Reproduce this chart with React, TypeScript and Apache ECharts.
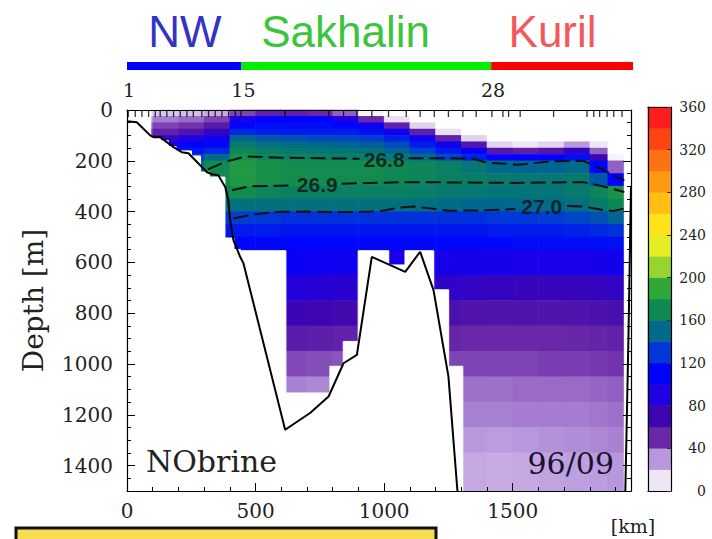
import { useEffect, useRef } from 'react';
import * as echarts from 'echarts';

// ---------- data ----------
const DIST_EDGES = [0, 100, 200, 300, 400, 500, 600, 700, 800, 900, 1000, 1100, 1200, 1300, 1400, 1500, 1600, 1700, 1800, 1870, 1935];
const DEPTH_EDGES = [0, 25, 50, 75, 100, 125, 150, 175, 200, 250, 300, 350, 400, 450, 500, 550, 650, 750, 850, 950, 1050, 1150, 1250, 1350, 1500];

const ROW_00 = [8, 18, 20, 25, 45, 55, 55, 50, 40, 5, 0, 0, 0, 0, 0, 0, 0, 0, 0, 0];
const ROW_01 = [20, 35, 38, 45, 95, 108, 110, 108, 90, 50, 12, 0, 0, 0, 0, 0, 0, 0, 0, 0];
const ROW_02 = [30, 45, 48, 58, 112, 115, 115, 115, 112, 100, 55, 15, 0, 0, 0, 0, 0, 0, 0, 0];
const ROW_03 = [38, 55, 62, 75, 125, 120, 120, 120, 120, 116, 100, 55, 12, 0, 0, 0, 0, 0, 0, 0];
const ROW_04 = [45, 75, 90, 100, 148, 142, 140, 136, 135, 132, 122, 100, 55, 15, 0, 0, 0, 0, 0, 0];
const ROW_05 = [50, 92, 110, 112, 160, 155, 152, 150, 148, 146, 138, 120, 100, 60, 15, 10, 15, 30, 10, 0];
const ROW_06 = [55, 108, 118, 125, 168, 162, 160, 158, 157, 155, 148, 135, 120, 105, 60, 55, 60, 80, 40, 0];
const ROW_07 = [60, 115, 132, 150, 174, 167, 165, 163, 162, 162, 158, 150, 135, 122, 110, 108, 110, 115, 70, 5];
const ROW_08 = [60, 120, 150, 170, 180, 174, 172, 171, 171, 171, 169, 167, 163, 158, 150, 148, 148, 150, 112, 40];
const ROW_09 = [60, 120, 152, 170, 180, 174, 172, 171, 170, 170, 168, 166, 164, 162, 160, 158, 158, 160, 142, 110];
const ROW_10 = [60, 120, 150, 165, 172, 166, 164, 163, 163, 163, 163, 162, 160, 158, 156, 156, 156, 160, 166, 176];
const ROW_11 = [60, 120, 145, 152, 154, 154, 154, 154, 154, 154, 154, 153, 151, 149, 149, 149, 151, 154, 160, 168];
const ROW_12 = [60, 118, 130, 130, 132, 130, 128, 128, 128, 128, 128, 128, 128, 128, 130, 130, 132, 135, 140, 148];
const ROW_13 = [60, 115, 118, 118, 120, 120, 118, 118, 118, 118, 118, 118, 118, 118, 120, 120, 120, 122, 125, 128];
const ROW_14 = [60, 110, 112, 112, 112, 112, 112, 112, 112, 112, 112, 112, 112, 112, 112, 114, 114, 115, 115, 116];
const ROW_15 = [100, 105, 105, 105, 105, 105, 104, 102, 100, 98, 96, 96, 96, 96, 96, 95, 95, 95, 96, 98];
const ROW_16 = [85, 88, 88, 88, 88, 88, 88, 86, 84, 82, 80, 80, 80, 78, 76, 75, 75, 75, 76, 78];
const ROW_17 = [70, 72, 72, 72, 72, 72, 72, 70, 68, 66, 64, 64, 64, 62, 62, 62, 62, 62, 63, 65];
const ROW_18 = [56, 56, 56, 56, 56, 56, 57, 56, 54, 52, 52, 52, 52, 50, 50, 50, 50, 51, 52, 54];
const ROW_19 = [44, 44, 44, 44, 44, 44, 44, 43, 42, 44, 45, 45, 45, 45, 45, 45, 46, 46, 47, 48];
const ROW_20 = [34, 34, 34, 34, 34, 34, 34, 33, 34, 36, 37, 37, 37, 37, 37, 38, 38, 38, 39, 40];
const ROW_21 = [33, 33, 33, 33, 33, 33, 33, 33, 33, 34, 34, 34, 34, 34, 34, 35, 35, 35, 36, 37];
const ROW_22 = [30, 30, 30, 30, 30, 30, 30, 30, 30, 30, 30, 30, 30, 30, 29, 30, 31, 32, 33, 34];
const ROW_23 = [26, 26, 26, 26, 26, 26, 26, 26, 26, 26, 26, 26, 26, 26, 25, 26, 27, 28, 29, 30];
const FIELD_ROWS = [ROW_00, ROW_01, ROW_02, ROW_03, ROW_04, ROW_05, ROW_06, ROW_07, ROW_08, ROW_09, ROW_10, ROW_11,
  ROW_12, ROW_13, ROW_14, ROW_15, ROW_16, ROW_17, ROW_18, ROW_19, ROW_20, ROW_21, ROW_22, ROW_23];

// seabed (no data) blocks
const MASK_FROM_KM = [0, 90, 130, 160, 190, 250, 285, 320, 380, 415, 440, 617, 790, 842, 900, 1017, 1082, 1192, 1250, 1935];
const MASK_TO_KM = [90, 130, 160, 190, 250, 285, 320, 380, 415, 440, 617, 790, 842, 900, 1017, 1082, 1192, 1250, 1305, 1960];
const MASK_TOP_M = [0, 110, 122, 145, 162, 182, 245, 265, 505, 550, 555, 1115, 1010, 912, 555, 611, 555, 709, 1010, 0];

// bathymetry line
const SEABED_KM = [0, 38, 90, 103, 129, 181, 213, 239, 310, 330, 355, 382, 394, 401, 414, 440, 453, 615, 712, 784, 842, 894, 952, 1082, 1140, 1192, 1250, 1285];
const SEABED_M = [44, 48, 100, 107, 107, 146, 166, 170, 244, 253, 257, 303, 355, 434, 513, 578, 604, 1259, 1193, 1128, 997, 964, 578, 637, 558, 709, 1049, 1500];
const SEABED_EAST_KM = [1938, 1950, 1960];
const SEABED_EAST_M = [1500, 900, 300];

// density contours (null = gap for label)
const C268_KM = [315, 380, 460, 600, 760, 905, null, 1095, 1250, 1347, 1400, 1478, 1520, 1647, 1775, 1860, 1934];
const C268_M = [234, 205, 183, 188, 190, 192, null, 190, 190, 192, 208, 212, 216, 202, 200, 240, 277];
const C269_KM = [408, 480, 600, 645, null, 835, 1000, 1100, 1250, 1500, 1775, 1850, 1934];
const C269_M = [316, 300, 298, 297, null, 290, 286, 284, 285, 287, 284, 300, 323];
const C270_KM = [414, 500, 592, 700, 850, 950, 1000, 1060, 1117, 1200, 1250, 1380, 1510, null, 1712, 1775, 1840, 1891, 1934];
const C270_M = [427, 410, 401, 400, 402, 400, 396, 384, 380, 390, 397, 395, 390, null, 378, 380, 392, 398, 388];
const CONTOUR_NAMES = ['26.8', '26.9', '27.0'];
const CONTOUR_LABEL_KM = [1000, 740, 1613];
const CONTOUR_LABEL_M = [195, 293, 381];

// station marks along the top
const STATIONS_KM = [5, 32, 58, 84, 110, 129, 155, 181, 207, 233, 258, 291, 317, 343, 369, 395, 421, 443, 615, 784, 842, 894, 952, 1017, 1086, 1140, 1195, 1250, 1306, 1358, 1419, 1462, 1484, 1529, 1659, 1789, 1815, 1838, 1867, 1893, 1925];

// regions
const REGION_NAMES = ['NW', 'Sakhalin', 'Kuril'];
const REGION_FROM_KM = [0, 445, 1416];
const REGION_TO_KM = [445, 1416, 1968];
const REGION_NAME_KM = [225, 850, 1655];
const REGION_TEXT_COLORS = ['#3434c4', '#3cc43c', '#f55858'];
const REGION_BAR_COLORS = ['#0000ff', '#00ee00', '#ff0000'];
const STATION_MARKS = ['1', '15', '28'];
const STATION_MARK_KM = [0, 445, 1416];

// colour scale
const LEVELS = [0, 20, 40, 60, 80, 100, 120, 140, 160, 180, 200, 220, 240, 260, 280, 300, 320, 340];
const LEVEL_COLORS = ['#eee6f6', '#b898dc', '#6a28a8', '#3e06b0', '#2000e0', '#0000ff', '#0038d8', '#006a8a', '#108a50',
  '#30a838', '#98d430', '#e4ee22', '#ffe41a', '#ffc012', '#ff9a12', '#ff7212', '#ff4414', '#ff1c1c'];

const CASE_LABEL = 'NObrine';
const DATE_LABEL = '96/09';
const X_UNIT = '[km]';
const Y_NAME = 'Depth [m]';

// ---------- helpers ----------
const SERIF = 'DejaVu Serif';
const SANS = 'Liberation Sans';

function hexRgb(h: string) {
  const n = parseInt(h.slice(1), 16);
  return [(n >> 16) & 255, (n >> 8) & 255, n & 255];
}
const RAMP: [number, string][] = [[0, '#ffffff'], ...LEVELS.map((l, i) => [l + 10, LEVEL_COLORS[i]] as [number, string])];
function colorFor(v: number) {
  if (v <= RAMP[0][0]) return RAMP[0][1];
  for (let i = 1; i < RAMP.length; i++) {
    if (v <= RAMP[i][0]) {
      const [a, ca] = RAMP[i - 1];
      const [b, cb] = RAMP[i];
      const t = (v - a) / (b - a);
      const A = hexRgb(ca), B = hexRgb(cb);
      return `rgb(${Math.round(A[0] + (B[0] - A[0]) * t)},${Math.round(A[1] + (B[1] - A[1]) * t)},${Math.round(A[2] + (B[2] - A[2]) * t)})`;
    }
  }
  return RAMP[RAMP.length - 1][1];
}

function toLine(km: (number | null)[], m: (number | null)[]) {
  return km.map((k, i) => (k === null || m[i] === null ? ['-', '-'] : [k, m[i]]));
}

const plain = (v: number) => String(v);

function buildOption() {
  const fieldData: number[][] = [];
  FIELD_ROWS.forEach((row, r) =>
    row.forEach((v, c) => fieldData.push([DIST_EDGES[c], DIST_EDGES[c + 1], DEPTH_EDGES[r], DEPTH_EDGES[r + 1], v]))
  );
  const maskData = MASK_FROM_KM.map((f, i) => [f, MASK_TO_KM[i], MASK_TOP_M[i], 1500]);
  const barData = LEVELS.map((l, i) => [0, 1, l, l + 20, i]);

  const rectRender = (fill: (api: any) => string, pad: number, stroke?: string) => (params: any, api: any) => {
    const a = api.coord([api.value(0), api.value(2)]);
    const b = api.coord([api.value(1), api.value(3)]);
    return {
      type: 'rect',
      shape: {
        x: Math.min(a[0], b[0]) - pad / 2,
        y: Math.min(a[1], b[1]) - pad / 2,
        width: Math.abs(b[0] - a[0]) + pad,
        height: Math.abs(b[1] - a[1]) + pad,
      },
      style: stroke ? { fill: fill(api), stroke, lineWidth: 1 } : { fill: fill(api) },
    };
  };

  const axisLine = { show: true, onZero: false, lineStyle: { color: '#000', width: 1.2 } };
  const labelBase = { fontFamily: SERIF, color: '#222', formatter: plain };

  const contourSeries = [
    toLine(C268_KM, C268_M),
    toLine(C269_KM, C269_M),
    toLine(C270_KM, C270_M),
  ].map((d) => ({
    type: 'line',
    xAxisIndex: 0,
    yAxisIndex: 0,
    data: d,
    symbol: 'none',
    connectNulls: false,
    z: 5,
    lineStyle: { color: '#111', width: 2, type: [15, 6] },
    silent: true,
  }));

  return {
    animation: false,
    backgroundColor: '#ffffff',
    grid: [
      { left: 127, top: 110, width: 504, height: 381, containLabel: false, outerBoundsMode: 'none' },
      { left: 648, top: 107, width: 23, height: 384, containLabel: false, outerBoundsMode: 'none' },
    ],
    xAxis: [
      {
        type: 'value', gridIndex: 0, min: 0, max: 1960, interval: 500, position: 'bottom', z: 10,
        axisLine,
        axisTick: { show: true, inside: true, length: 8, lineStyle: { color: '#000' } },
        minorTick: { show: true, splitNumber: 5, length: 4, lineStyle: { color: '#000' } },
        axisLabel: { ...labelBase, fontSize: 20, margin: 10, showMaxLabel: false },
        splitLine: { show: false }, minorSplitLine: { show: false },
      },
      {
        type: 'value', gridIndex: 0, min: 0, max: 1960, position: 'top', z: 10,
        axisLine, axisTick: { show: false }, axisLabel: { show: false }, splitLine: { show: false },
      },
      {
        type: 'value', gridIndex: 1, min: 0, max: 1, position: 'bottom', z: 10,
        axisLine, axisTick: { show: false }, axisLabel: { show: false }, splitLine: { show: false },
      },
      {
        type: 'value', gridIndex: 1, min: 0, max: 1, position: 'top', z: 10,
        axisLine, axisTick: { show: false }, axisLabel: { show: false }, splitLine: { show: false },
      },
    ],
    yAxis: [
      {
        type: 'value', gridIndex: 0, min: 0, max: 1500, interval: 200, inverse: true, position: 'left', z: 10,
        name: Y_NAME, nameLocation: 'middle', nameGap: 80,
        nameTextStyle: { fontFamily: SERIF, fontSize: 28, color: '#222' },
        axisLine,
        axisTick: { show: true, inside: true, length: 8, lineStyle: { color: '#000' } },
        minorTick: { show: true, splitNumber: 4, length: 4, lineStyle: { color: '#000' } },
        axisLabel: { ...labelBase, fontSize: 20, margin: 14, showMaxLabel: false },
        splitLine: { show: false }, minorSplitLine: { show: false },
      },
      {
        type: 'value', gridIndex: 0, min: 0, max: 1500, interval: 200, inverse: true, position: 'right', z: 10,
        axisLine,
        axisTick: { show: true, inside: true, length: 8, lineStyle: { color: '#000' } },
        minorTick: { show: true, splitNumber: 4, length: 4, lineStyle: { color: '#000' } },
        axisLabel: { show: false },
        splitLine: { show: false }, minorSplitLine: { show: false },
      },
      {
        type: 'value', gridIndex: 1, min: 0, max: 360, interval: 40, position: 'right', z: 10,
        axisLine,
        axisTick: { show: true, inside: true, length: 4, lineStyle: { color: '#333' } },
        axisLabel: { ...labelBase, fontSize: 14, margin: 35, align: 'right' },
        splitLine: { show: false },
      },
      {
        type: 'value', gridIndex: 1, min: 0, max: 360, position: 'left', z: 10,
        axisLine, axisTick: { show: false }, axisLabel: { show: false }, splitLine: { show: false },
      },
    ],
    series: [
      {
        type: 'custom', name: 'field', xAxisIndex: 0, yAxisIndex: 0, z: 1, silent: true,
        encode: { x: [0, 1], y: [2, 3] },
        data: fieldData,
        renderItem: rectRender((api) => colorFor(api.value(4)), 0.6),
      },
      {
        type: 'custom', name: 'seabed', xAxisIndex: 0, yAxisIndex: 0, z: 2, silent: true,
        encode: { x: [0, 1], y: [2, 3] },
        data: maskData,
        renderItem: rectRender(() => '#ffffff', 0.5, '#ffffff'),
      },
      ...contourSeries,
      {
        type: 'scatter', xAxisIndex: 0, yAxisIndex: 0, z: 6, silent: true, clip: false,
        symbolSize: 1, itemStyle: { color: 'rgba(0,0,0,0)' },
        data: CONTOUR_NAMES.map((n, i) => ({ name: n, value: [CONTOUR_LABEL_KM[i], CONTOUR_LABEL_M[i]] })),
        label: {
          show: true, position: 'inside', formatter: '{b}',
          fontFamily: SANS, fontWeight: 'bold', fontSize: 21, color: '#111',
        },
      },
      {
        type: 'line', xAxisIndex: 0, yAxisIndex: 0, z: 7, silent: true, symbol: 'none',
        data: SEABED_KM.map((k, i) => [k, SEABED_M[i]]),
        lineStyle: { color: '#000', width: 2 },
      },
      {
        type: 'line', xAxisIndex: 0, yAxisIndex: 0, z: 7, silent: true, symbol: 'none',
        data: SEABED_EAST_KM.map((k, i) => [k, SEABED_EAST_M[i]]),
        lineStyle: { color: '#000', width: 2 },
      },
      {
        type: 'scatter', xAxisIndex: 0, yAxisIndex: 0, z: 11, silent: true, clip: false,
        symbol: 'rect', symbolSize: [1.3, 7], symbolOffset: [0, 3.5],
        itemStyle: { color: '#000' },
        data: STATIONS_KM.map((k) => [k, 0]),
      },
      {
        type: 'custom', name: 'regionBar', xAxisIndex: 0, yAxisIndex: 0, z: 12, silent: true, clip: false,
        encode: { x: [0, 1] },
        data: REGION_FROM_KM.map((f, i) => [f, REGION_TO_KM[i], i]),
        renderItem: (params: any, api: any) => {
          const a = api.coord([api.value(0), 0]);
          const b = api.coord([api.value(1), 0]);
          return {
            type: 'rect',
            shape: { x: a[0], y: a[1] - 48, width: b[0] - a[0], height: 8 },
            style: { fill: REGION_BAR_COLORS[api.value(2)] },
          };
        },
      },
      {
        type: 'custom', name: 'regionNames', xAxisIndex: 0, yAxisIndex: 0, z: 12, silent: true, clip: false,
        encode: { x: 0 },
        data: REGION_NAME_KM.map((k, i) => [k, i]),
        renderItem: (params: any, api: any) => {
          const p = api.coord([api.value(0), 0]);
          const i = api.value(1);
          return {
            type: 'text', x: p[0], y: p[1] - 79,
            style: { text: REGION_NAMES[i], fontSize: 44, fontFamily: SANS, fill: REGION_TEXT_COLORS[i], align: 'center', verticalAlign: 'middle' },
          };
        },
      },
      {
        type: 'custom', name: 'stationMarks', xAxisIndex: 0, yAxisIndex: 0, z: 12, silent: true, clip: false,
        encode: { x: 0 },
        data: STATION_MARK_KM.map((k, i) => [k, i]),
        renderItem: (params: any, api: any) => {
          const p = api.coord([api.value(0), 0]);
          const i = api.value(1);
          return {
            type: 'text', x: p[0] + 2, y: p[1] - 20,
            style: { text: STATION_MARKS[i], fontSize: 19, fontFamily: SERIF, fill: '#222', align: 'center', verticalAlign: 'middle' },
          };
        },
      },
      {
        type: 'custom', name: 'colorbar', xAxisIndex: 2, yAxisIndex: 2, z: 1, silent: true,
        encode: { x: [0, 1], y: [2, 3] },
        data: barData,
        renderItem: rectRender((api) => LEVEL_COLORS[api.value(4)], 0.5),
      },
    ],
    graphic: [
      {
        type: 'text', x: 146, y: 461, z: 100, silent: true,
        style: { text: CASE_LABEL, fontSize: 30, fontFamily: SERIF, fill: '#222', align: 'left', verticalAlign: 'middle' },
      },
      {
        type: 'text', x: 614, y: 463, z: 100, silent: true,
        style: { text: DATE_LABEL, fontSize: 30, fontFamily: SERIF, fill: '#1c1030', align: 'right', verticalAlign: 'middle' },
      },
      {
        type: 'text', x: 633, y: 526, z: 100, silent: true,
        style: { text: X_UNIT, fontSize: 19, fontFamily: SERIF, fill: '#222', align: 'center', verticalAlign: 'middle' },
      },
      {
        type: 'rect', z: 100, silent: true,
        shape: { x: 16, y: 528, width: 420, height: 20 },
        style: { fill: '#f8dd4e', stroke: '#111', lineWidth: 3 },
      },
    ],
  };
}

export default function App() {
  const ref = useRef<HTMLDivElement>(null);
  useEffect(() => {
    if (!ref.current) return;
    const chart = echarts.init(ref.current, null, { renderer: 'svg' });
    chart.setOption(buildOption() as any);
    return () => chart.dispose();
  }, []);
  return (
    <div
      ref={ref}
      style={{ position: 'absolute', left: 0, top: 0, width: 712, height: 539, background: '#fff', overflow: 'hidden' }}
    />
  );
}
